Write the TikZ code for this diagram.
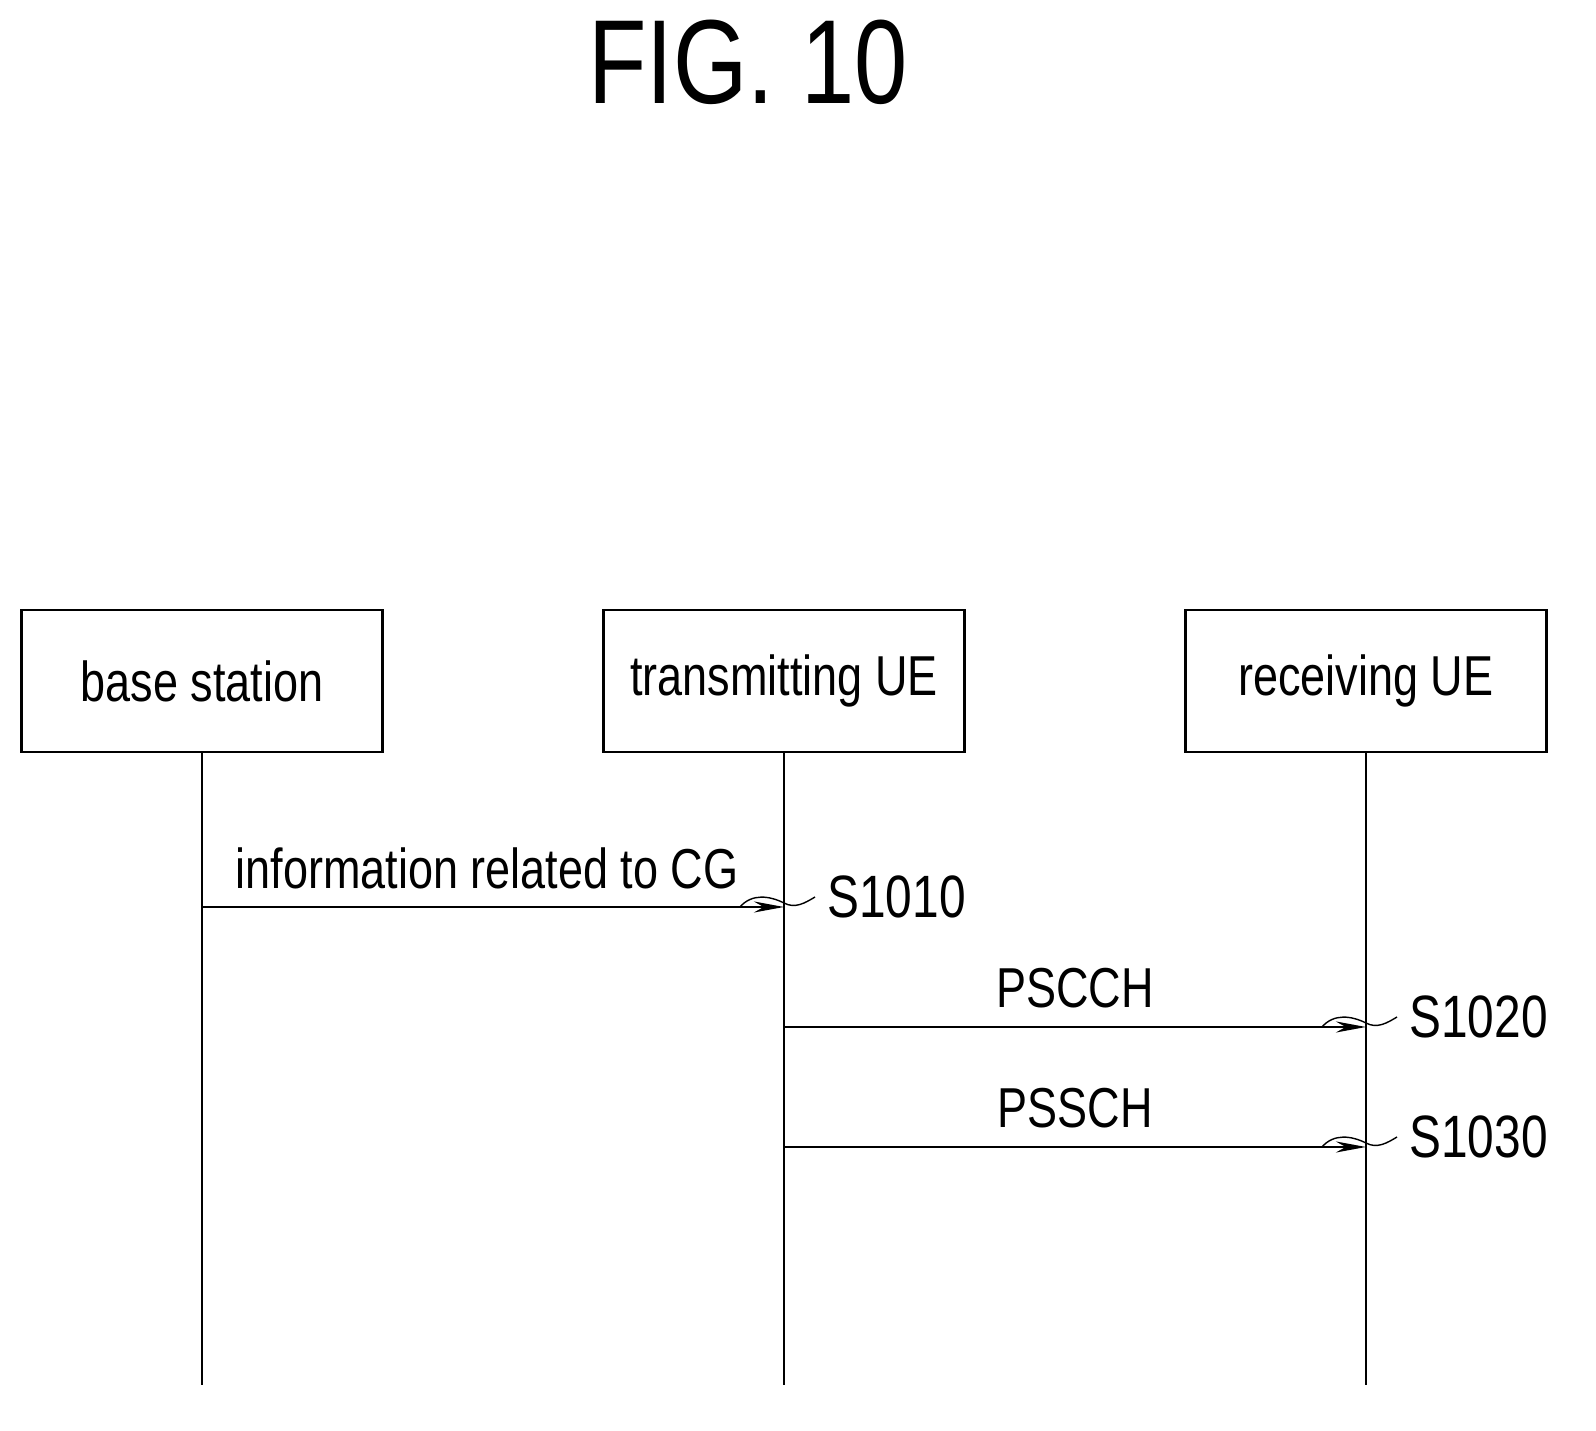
\documentclass[tikz,border=0pt]{standalone}
\usepackage{fontspec}
\newfontfamily\figfont[FakeStretch=0.8]{Liberation Sans}
\usetikzlibrary{arrows.meta,positioning}
\tikzset{
  ent/.style={draw,thick,minimum width=3.61cm,minimum height=1.42cm,font=\figfont\fontsize{16}{20}\selectfont},
  msg/.style={thick,-{Stealth[length=0.3cm,width=0.11cm]}},
  lbl/.style={font=\figfont\fontsize{16}{20}\selectfont},
  tag/.style={font=\figfont\fontsize{17}{20}\selectfont,anchor=west}
}
\begin{document}
\begin{tikzpicture}[x=0.01cm,y=-0.01cm]
  \useasboundingbox (0,0) rectangle (1596,1431);
  %% title
  \node[font=\figfont\fontsize{34}{40}\selectfont] (title) at (748,62) {FIG. 10};

  %% entities
  \node[ent] (bs) at (202,681) {base station};
  \node[ent] (tx) at (784,681) {transmitting UE};
  \node[ent] (rx) at (1366,681) {receiving UE};

  %% lifelines
  \coordinate (bsend) at (202,1385);
  \coordinate (txend) at (784,1385);
  \coordinate (rxend) at (1366,1385);
  \draw[thick] (bs.south) -- (bsend);
  \draw[thick] (tx.south) -- (txend);
  \draw[thick] (rx.south) -- (rxend);

  %% messages
  \coordinate (m1s) at (202,907); \coordinate (m1e) at (784,907);
  \coordinate (m2s) at (784,1027); \coordinate (m2e) at (1366,1027);
  \coordinate (m3s) at (784,1147); \coordinate (m3e) at (1366,1147);
  \draw[msg] (m1s) -- (m1e);
  \draw[msg] (m2s) -- (m2e);
  \draw[msg] (m3s) -- (m3e);
  \node[lbl] (l1) at (487,868) {information related to CG};
  \node[lbl] (l2) at (1075,988) {PSCCH};
  \node[lbl] (l3) at (1075,1108) {PSSCH};

  %% step tags
  \node[tag] (s1) at (815,897) {S1010};
  \node[tag] (s2) at (1397,1017) {S1020};
  \node[tag] (s3) at (1397,1137) {S1030};
  \draw (740,907) .. controls (752,893) and (770,896) .. (784,903)
        .. controls (795,909) and (805,903) .. (s1.west);
  \draw (1322,1027) .. controls (1334,1013) and (1352,1016) .. (1366,1023)
        .. controls (1377,1029) and (1387,1023) .. (s2.west);
  \draw (1322,1147) .. controls (1334,1133) and (1352,1136) .. (1366,1143)
        .. controls (1377,1149) and (1387,1143) .. (s3.west);
\end{tikzpicture}
\end{document}
